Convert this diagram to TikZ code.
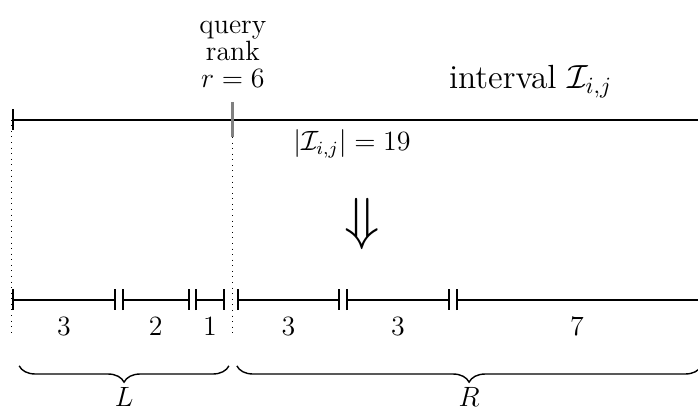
\documentclass[tikz,border=0pt,12pt]{standalone}
\usepackage{amsmath,amssymb}
\usetikzlibrary{arrows.meta,positioning,decorations.pathreplacing}

\begin{document}
\begin{tikzpicture}[
    seg/.style={thick, {Bar[width=9pt]}-{Bar[width=9pt]}},
    guide/.style={dotted, thin},
    brc/.style={decorate, decoration={brace, mirror, amplitude=7pt}, semithick}
]
\useasboundingbox (-0.18,-4.41) rectangle (10.37,1.81);

% Whole interval
\coordinate (top-l) at (0,0);
\coordinate (top-r) at (10.45,0);
\draw[thick, {Bar[width=9pt]}-] (top-l) -- (top-r);
\coordinate (q-top) at (3.34,0.27);
\coordinate (q-bot) at (3.34,-0.26);
\draw[gray, line width=1.2pt] (q-top) -- (q-bot);
\node[above=2pt of q-top, align=center, font=\fontsize{12}{11.6}\selectfont] (query) {query\\rank\\$r = 6$};
\node[font=\large] (name) at (7.84,0.57) {interval $\mathcal{I}_{i,j}$};
\node (size) at (5.14,-0.37) {$|\mathcal{I}_{i,j}| = 19$};

% Split
\node[font=\fontsize{28}{30}\selectfont] (split) at (5.29,-1.58) {$\Downarrow$};

% Pieces of L
\coordinate (a0) at (0,-2.72);
\coordinate (a1) at (1.57,-2.72);
\coordinate (a2) at (1.66,-2.72);
\coordinate (a3) at (2.69,-2.72);
\coordinate (a4) at (2.77,-2.72);
\coordinate (a5) at (3.22,-2.72);
\draw[seg] (a0) -- (a1) node[midway, below=3pt] (la) {3};
\draw[seg] (a2) -- (a3) node[midway, below=3pt] (lb) {2};
\draw[seg] (a4) -- (a5) node[midway, below=3pt] (lc) {1};

% Pieces of R
\coordinate (b0) at (3.40,-2.72);
\coordinate (b1) at (4.96,-2.72);
\coordinate (b2) at (5.05,-2.72);
\coordinate (b3) at (6.62,-2.72);
\coordinate (b4) at (6.71,-2.72);
\coordinate (b5) at (10.37,-2.72);
\draw[seg] (b0) -- (b1) node[midway, below=3pt] (ra) {3};
\draw[seg] (b2) -- (b3) node[midway, below=3pt] (rb) {3};
\draw[thick, {Bar[width=9pt]}-] (b4) -- (b5) node[midway, below=3pt] (rc) {7};

% Guides
\coordinate (dot-l) at (0,-3.25);
\coordinate (dot-r) at (3.34,-3.25);
\draw[guide] (top-l) -- (dot-l);
\draw[guide] (q-bot) -- (dot-r);

% Braces
\coordinate (br-l0) at (0.11,-3.72);
\coordinate (br-l1) at (3.28,-3.72);
\coordinate (br-r0) at (3.40,-3.72);
\coordinate (br-r1) at (10.42,-3.72);
\draw[brc] (br-l0) -- (br-l1) node[midway, below=8pt, inner sep=1pt] (L) {$L$};
\draw[brc] (br-r0) -- (br-r1) node[midway, below=8pt, inner sep=1pt] (R) {$R$};

\end{tikzpicture}
\end{document}
